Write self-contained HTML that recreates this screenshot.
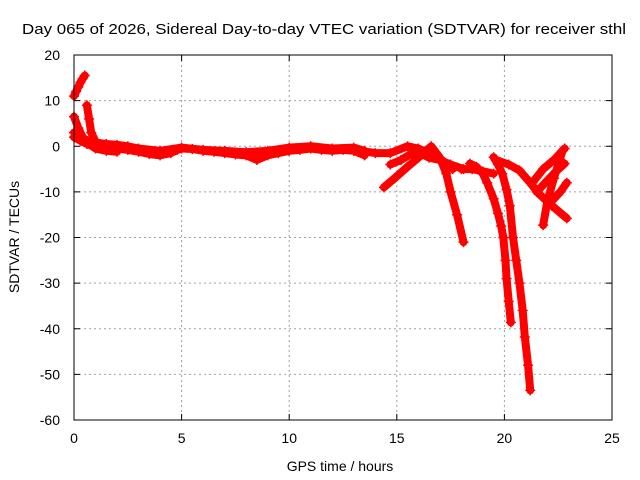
<!DOCTYPE html>
<html><head><meta charset="utf-8"><style>
html,body{margin:0;padding:0;background:#fff;}
svg{display:block;font-family:"Liberation Sans",sans-serif;}
</style></head><body>
<svg id="chart" width="640" height="480" viewBox="0 0 640 480">
<rect x="0" y="0" width="640" height="480" fill="#fff"/>
<text x="324" y="34" font-size="14.5" text-anchor="middle" textLength="604" lengthAdjust="spacingAndGlyphs">Day 065 of 2026, Sidereal Day-to-day VTEC variation (SDTVAR) for receiver sthl</text>
<g id="grid"></g>
<g id="ticks"></g>
<g id="series"></g>
<rect x="74" y="55" width="538" height="365" fill="none" stroke="#000" stroke-width="1"/>
<text x="340" y="471" font-size="14" text-anchor="middle">GPS time / hours</text>
<text transform="translate(19,237) rotate(-90)" font-size="14" text-anchor="middle">SDTVAR / TECUs</text>
</svg>
<script>
const xTicks = [0, 5, 10, 15, 20, 25];
const yTicks = [-60, -50, -40, -30, -20, -10, 0, 10, 20];
const trackRise = [[0,11],[0.1,12],[0.2,13],[0.3,14],[0.4,14.8],[0.5,15.5]];
const trackMain = [[0,2],[0.3,1.2],[0.6,0.5],[1,0],[1.5,-0.3],[2,-0.5],[2.5,-0.8],[3,-1.2],[3.5,-1.7],[4,-2],[4.5,-1.5],[4.8,-0.8],[5,-0.5],[5.5,-0.6],[6,-1],[6.5,-1.2],[7,-1.5],[7.5,-1.8],[8,-2],[8.5,-3],[9,-2],[9.5,-1.5],[10,-1],[10.5,-0.8],[11,-0.5],[11.5,-0.8],[12,-1],[12.5,-0.8],[13,-1],[13.5,-2]];
const trackUpper = [[0,3],[0.5,1.5],[1,0.8],[1.5,0.5],[2,0.3],[2.5,0],[3,-0.5],[4,-1],[5,-0.3],[6,-0.8],[7,-1],[8,-1.3],[9,-1],[10,-0.3],[11,0],[12,-0.5],[13,-0.3],[13.5,-1]];
const trackSecond = [[0,6.5],[0.2,4],[0.4,2],[0.7,0.5],[1,-0.5],[1.5,-1],[2,-1.2]];
const trackThird = [[0.6,9],[0.7,6],[0.8,3],[1,1],[1.3,0],[2,0]];
const trackA = [[14.4,-9],[14.9,-7],[15.5,-4.5],[16,-2.5],[16.6,0],[17,-2.5],[17.3,-6],[17.5,-10],[17.8,-15],[18.1,-21]];
const trackA2 = [[14.7,-4],[15.2,-3],[15.9,-1],[16.5,-2.5],[17,-3],[17.5,-4],[18.1,-5]];
const trackA3 = [[13.3,-1],[14,-1.5],[14.7,-1.5],[15.5,0],[16,-0.5],[16.5,-1.5],[17.2,-3.5],[17.6,-5]];
const trackB = [[18.4,-3.8],[18.7,-4.5],[19,-6],[19.2,-8],[19.5,-11.5],[19.7,-14.7],[19.85,-17.5],[19.95,-20],[20.05,-25],[20.1,-29],[20.2,-34],[20.3,-38.6]];
const trackC = [[19.5,-2.4],[19.7,-4],[19.9,-6],[20.1,-9.5],[20.25,-13],[20.4,-20],[20.55,-25],[20.7,-30],[20.85,-36],[20.95,-41.8],[21.1,-48],[21.2,-53.5]];
const trackMid = [[18,-5],[18.5,-5],[19,-5.5],[19.5,-6]];
const trackD = [[19.6,-3],[20.2,-4],[20.7,-5.3],[21.2,-8],[21.6,-10.4],[22.2,-13],[22.9,-15.8]];
const trackE1 = [[21.3,-8],[21.8,-5],[22.3,-3],[22.8,-0.5]];
const trackE2 = [[21.5,-10],[22,-7.5],[22.4,-5.5],[22.8,-3.8]];
const trackE3 = [[21.8,-17.3],[22,-12],[22.3,-7],[22.5,-4],[22.7,-1]];
const trackE4 = [[22,-13],[22.3,-11.5],[22.6,-10],[22.9,-8]];
const tracks = [trackRise, trackMain, trackUpper, trackSecond, trackThird, trackA, trackA2, trackA3, trackB, trackC, trackMid, trackD, trackE1, trackE2, trackE3, trackE4];

const X0 = 74, X1 = 612, Y0 = 420, Y1 = 55;
function xs(t){ return X0 + (t - 0) / 25 * (X1 - X0); }
function ys(v){ return Y0 - (v + 60) / 80 * (Y0 - Y1); }
const NS = 'http://www.w3.org/2000/svg';
const grid = document.getElementById('grid');
const ticks = document.getElementById('ticks');
const series = document.getElementById('series');

xTicks.forEach(t => {
  const x = xs(t);
  if (t > 0 && t < 25) {
    const g = document.createElementNS(NS, 'line');
    g.setAttribute('x1', x); g.setAttribute('x2', x); g.setAttribute('y1', Y1); g.setAttribute('y2', Y0);
    g.setAttribute('stroke', '#a0a0a0'); g.setAttribute('stroke-dasharray', '2,3');
    
    
    grid.appendChild(g);
  }
  [[Y0, Y0 - 6], [Y1, Y1 + 6]].forEach(p => {
    const l = document.createElementNS(NS, 'line');
    l.setAttribute('x1', x); l.setAttribute('x2', x); l.setAttribute('y1', p[0]); l.setAttribute('y2', p[1]);
    l.setAttribute('stroke', '#000');
    
    
    ticks.appendChild(l);
  });
  const tx = document.createElementNS(NS, 'text');
  tx.setAttribute('x', x); tx.setAttribute('y', Y0 + 23); tx.setAttribute('font-size', '14'); tx.setAttribute('text-anchor', 'middle');
  tx.textContent = t;
  
  
  ticks.appendChild(tx);
});
yTicks.forEach(v => {
  const y = ys(v);
  if (v > -60 && v < 20) {
    const g = document.createElementNS(NS, 'line');
    g.setAttribute('x1', X0); g.setAttribute('x2', X1); g.setAttribute('y1', y); g.setAttribute('y2', y);
    g.setAttribute('stroke', '#a0a0a0'); g.setAttribute('stroke-dasharray', '2,3');
    
    
    grid.appendChild(g);
  }
  [[X0, X0 + 6], [X1, X1 - 6]].forEach(p => {
    const l = document.createElementNS(NS, 'line');
    l.setAttribute('x1', p[0]); l.setAttribute('x2', p[1]); l.setAttribute('y1', y); l.setAttribute('y2', y);
    l.setAttribute('stroke', '#000');
    
    
    ticks.appendChild(l);
  });
  const tx = document.createElementNS(NS, 'text');
  tx.setAttribute('x', X0 - 14); tx.setAttribute('y', y + 5); tx.setAttribute('font-size', '14'); tx.setAttribute('text-anchor', 'end');
  tx.textContent = v;
  
  
  ticks.appendChild(tx);
});

tracks.forEach(tr => {
  const pl = document.createElementNS(NS, 'polyline');
  pl.setAttribute('points', tr.map(p => xs(p[0]) + ',' + ys(p[1])).join(' '));
  pl.setAttribute('fill', 'none'); pl.setAttribute('stroke', '#ff0000'); pl.setAttribute('stroke-width', '8');
  pl.setAttribute('stroke-linejoin', 'round'); pl.setAttribute('stroke-linecap', 'round');
  
  
  series.appendChild(pl);
  tr.forEach(p => {
    const x = xs(p[0]), y = ys(p[1]);
    const m = document.createElementNS(NS, 'path');
    m.setAttribute('d', `M${x-5},${y}H${x+5}M${x},${y-5}V${y+5}`);
    m.setAttribute('stroke', '#ff0000'); m.setAttribute('stroke-width', '1.5');
    
    
    series.appendChild(m);
  });
});
</script>
</body></html>
